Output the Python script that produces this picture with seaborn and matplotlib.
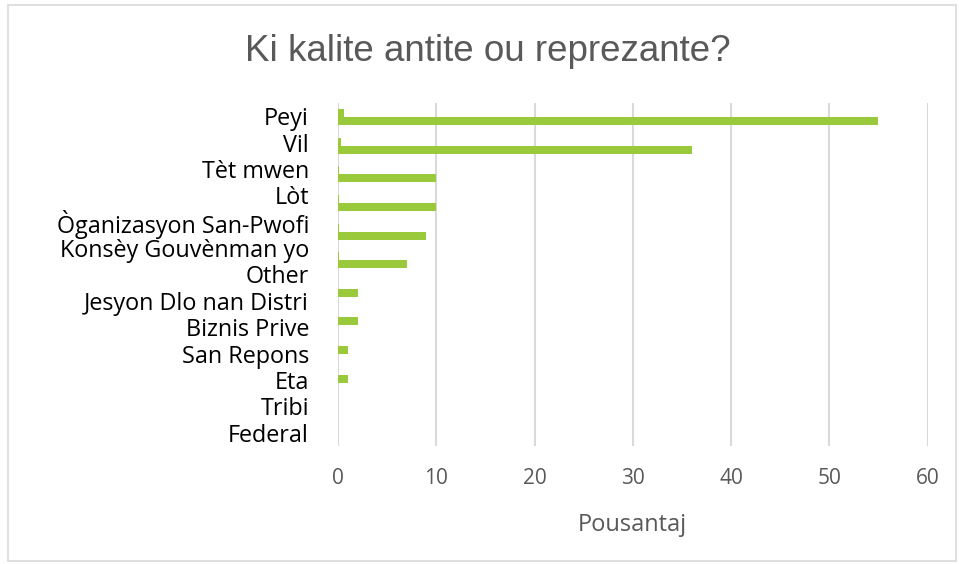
import seaborn as sns
import matplotlib.pyplot as plt
import matplotlib.patches as mpatches
import pandas as pd
import numpy as np

# done pou graf la
kategori = ["Peyi", "Vil", "Tèt mwen", "Lòt", "Òganizasyon San-Pwofi",
            "Konsèy Gouvènman yo", "Other", "Jesyon Dlo nan Distri",
            "Biznis Prive", "San Repons", "Eta", "Tribi", "Federal"]
seri_ti = [0.6, 0.3, 0.08, 0.08, 0.06, 0.06, 0, 0, 0, 0, 0, 0, 0]
seri_gwo = [55, 36, 10, 10, 9, 7, 2, 2, 1, 1, 0, 0, 0]
non_seri = ["Seri 1", "Seri 2"]
x_tik = [0, 10, 20, 30, 40, 50, 60]

df = pd.DataFrame({
    "kategori": kategori * 2,
    "valè": seri_ti + seri_gwo,
    "seri": [non_seri[0]] * len(kategori) + [non_seri[1]] * len(kategori),
})

sns.set_style("white")
plt.rcParams["font.family"] = ["Open Sans", "DejaVu Sans"]

vè = "#9ACA3C"
gri = "#595959"

fig = plt.figure(figsize=(9.59, 5.64), dpi=100)
ax = fig.add_axes([0.3525, 0.2092, 0.6147, 0.6082])

sns.barplot(data=df, x="valè", y="kategori", hue="seri", hue_order=non_seri,
            palette=[vè, vè], saturation=1, width=0.56, orient="h", legend=False,
            linewidth=0, ax=ax)

# ba yo gen 12 plas, etikèt yo 13
ax.set_ylim(11.5, -0.5)
pos = -0.5 + (np.arange(len(kategori)) + 0.5) * 12 / 13
ax.set_yticks(pos, kategori)
ax.tick_params(axis="y", length=0, pad=21, labelsize=16.8, labelcolor="black")

ax.set_xlim(0, 60)
ax.set_xticks(x_tik)
ax.tick_params(axis="x", length=0, pad=16, labelsize=15, labelcolor=gri)
ax.xaxis.grid(True, color="#D9D9D9", linewidth=1.5)
ax.set_axisbelow(True)
sns.despine(ax=ax, left=True, bottom=True)

ax.set_xlabel("Pousantaj", fontsize=17, color=gri, labelpad=17)
ax.set_ylabel("")

fig.text(0.509, 0.892, "Ki kalite antite ou reprezante?", ha="center", va="baseline",
         fontsize=26.5, color=gri, family=["Liberation Sans", "DejaVu Sans"])

# kad gri bò kote a
fig.patches.append(mpatches.Rectangle((8 / 959, 3 / 564), 948 / 959, 556 / 564,
                                      transform=fig.transFigure, fill=False,
                                      edgecolor="#D9D9D9", linewidth=1.2))

fig.savefig("out.png", dpi=100)
